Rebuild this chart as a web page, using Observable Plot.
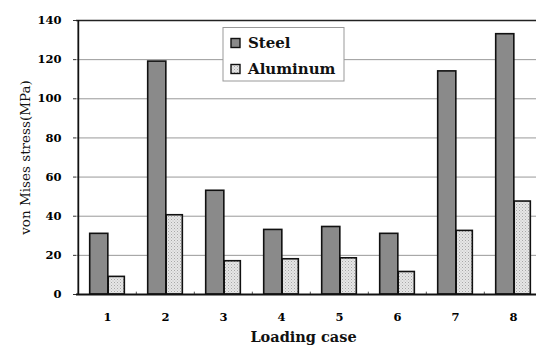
<!DOCTYPE html>
<html>
<head>
<meta charset="utf-8">
<script src="https://cdn.jsdelivr.net/npm/d3@7"></script>
<script src="https://cdn.jsdelivr.net/npm/@observablehq/plot@0.6"></script>
<style>
  html, body { margin: 0; padding: 0; background: #fff; }
  #chart svg { display: block; }
</style>
</head>
<body>
<div id="chart"></div>
<script>
const cases = ["1", "2", "3", "4", "5", "6", "7", "8"];
const steel = [31, 119, 53, 33, 34.5, 31, 114, 133];
const aluminum = [9, 40.5, 17, 18, 18.5, 11.5, 32.5, 47.5];
const yTicks = [0, 20, 40, 60, 80, 100, 120, 140];
const seriesNames = ["Steel", "Aluminum"];

const steelData = cases.map((c, i) => ({case: c, value: steel[i]}));
const aluData = cases.map((c, i) => ({case: c, value: aluminum[i]}));

const W = 536, H = 347;
const mLeft = 76, mTop = 20, yBottom = 294;
const xRange = [mLeft, 543];
const bw = (xRange[1] - xRange[0]) / cases.length;

const serif = "'DejaVu Serif', serif";

const plot = Plot.plot({
  width: W,
  height: H,
  marginLeft: mLeft,
  marginTop: mTop,
  marginBottom: H - yBottom,
  marginRight: 0,
  style: {fontFamily: serif, background: "#fff", overflow: "hidden"},
  x: {domain: cases, range: xRange, padding: 0, label: null},
  y: {domain: [0, 140], label: null},
  marks: [
    Plot.gridY(yTicks, {stroke: "#999", strokeOpacity: 1, strokeWidth: 1}),
    Plot.barY(steelData, {x: "case", y: "value", fill: "#8a8a8a", stroke: "#111", strokeWidth: 1.6,
      insetLeft: 11.7, insetRight: bw - 30.2}),
    Plot.barY(aluData, {x: "case", y: "value", fill: "url(#dots)", stroke: "#111", strokeWidth: 1.6,
      insetLeft: 30.2, insetRight: bw - 46.7}),
    Plot.ruleX(cases, {x: d => d, dx: -bw / 2, y1: 0, y2: 1.2, stroke: "#555", strokeWidth: 1}),
    Plot.ruleY([140], {stroke: "#222", strokeWidth: 1.5}),
    Plot.ruleY([0], {stroke: "#111", strokeWidth: 1.8}),
    Plot.axisY(yTicks, {tickSize: 3, tickPadding: 12, fontSize: 11.5, fontWeight: "bold", label: null, stroke: "#333"}),
    Plot.axisX({tickSize: 0, tickPadding: 18, fontSize: 11.5, fontWeight: "bold", label: null}),
    Plot.ruleX([0], {x: () => cases[0], dx: -bw / 2, y1: 0, y2: 140, stroke: "#111", strokeWidth: 1.8}),
    Plot.text(["von Mises stress(MPa)"], {frameAnchor: "left", textAnchor: "middle", dx: -51, rotate: -90, fontSize: 13.5, fill: "#111"}),
    Plot.text(["Loading case"], {frameAnchor: "bottom", dy: 47, dx: -3, fontSize: 14.5, fontWeight: "bold", fill: "#111"})
  ]
});

const svg = d3.select(plot);
const defs = svg.insert("defs", ":first-child");
const pat = defs.append("pattern").attr("id", "dots").attr("patternUnits", "userSpaceOnUse")
  .attr("width", 3).attr("height", 3);
pat.append("rect").attr("width", 3).attr("height", 3).attr("fill", "#e6e6e6");
pat.append("rect").attr("x", 0).attr("y", 0).attr("width", 1).attr("height", 1).attr("fill", "#a8a8a8");
pat.append("rect").attr("x", 1.5).attr("y", 1.5).attr("width", 1).attr("height", 1).attr("fill", "#bdbdbd");

// Legend inside the plot area
const lg = svg.append("g").attr("font-family", serif).attr("text-anchor", "start");
lg.append("rect").attr("x", 223).attr("y", 27.5).attr("width", 121).attr("height", 53.5)
  .attr("fill", "#fff").attr("stroke", "#999").attr("stroke-width", 1);
const swFill = ["#8a8a8a", "url(#dots)"];
seriesNames.forEach((name, i) => {
  const cy = 43 + i * 26;
  lg.append("rect").attr("x", 231).attr("y", cy - 4.5).attr("width", 9).attr("height", 9)
    .attr("fill", swFill[i]).attr("stroke", "#111").attr("stroke-width", 1.4);
  lg.append("text").attr("x", 248).attr("y", cy + 5).attr("font-size", 15)
    .attr("text-anchor", "start").attr("font-weight", "bold").attr("fill", "#111").text(name);
});

document.getElementById("chart").appendChild(plot);
</script>
</body>
</html>
